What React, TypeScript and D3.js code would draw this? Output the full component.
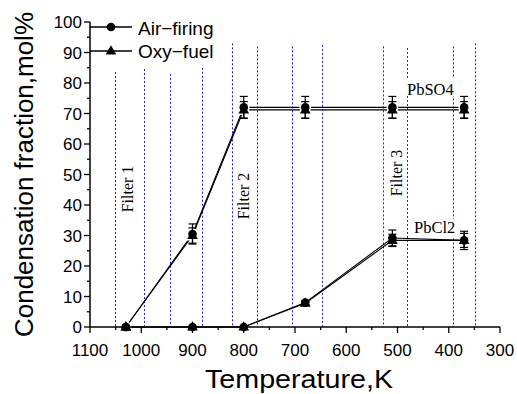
import React from "react";
import * as d3 from "d3";

// Temperatures of the sampling points (K)
const temps = [1030, 900, 800, 680, 510, 370];

// PbSO4 condensation fraction (mol%) and error
const pbso4Air = [0, 30.5, 72.0, 72.0, 72.0, 72.0];
const pbso4AirErr = [0, 3.3, 3.6, 3.6, 3.6, 3.6];
const pbso4Oxy = [0, 30.0, 71.2, 71.2, 71.2, 71.2];
const pbso4OxyErr = [0, 2.5, 2.7, 2.7, 2.7, 2.7];

// PbCl2 condensation fraction (mol%) and error
const pbcl2Air = [0, 0, 0, 8.0, 29.2, 28.4];
const pbcl2AirErr = [0, 0, 0, 0.6, 2.6, 3.0];
const pbcl2Oxy = [0, 0, 0, 7.8, 28.4, 28.4];
const pbcl2OxyErr = [0, 0, 0, 0.5, 2.0, 2.3];

// Filter temperature boundaries (K) and the height each guide line reaches (mol%)
const filterBounds = [1051, 995, 944, 881, 823, 774, 706, 647, 528, 481, 392, 349];
const filterTops = [83.6, 84.6, 83, 85, 93, 92, 92, 92.5, 92, 91.5, 92, 93];

const filterLabels = [
  { text: "Filter 1", t: 1016, cy: 189 },
  { text: "Filter 2", t: 790, cy: 196 },
  { text: "Filter 3", t: 491, cy: 173 },
];

const xTicks = [1100, 1000, 900, 800, 700, 600, 500, 400, 300];
const yTicks = [0, 10, 20, 30, 40, 50, 60, 70, 80, 90, 100];

const W = 517;
const H = 394;
const SANS = "'Liberation Sans', Arial, sans-serif";
const SERIF = "'Liberation Serif', 'Times New Roman', serif";

export default function App() {
  const x = d3.scaleLinear().domain([1100, 300]).range([90, 500]);
  const y = d3.scaleLinear().domain([0, 100]).range([327, 22]);

  const line = d3
    .line<[number, number]>()
    .x((d) => x(d[0]))
    .y((d) => y(d[1]));

  const pts = (vals: number[]) => temps.map((t, i) => [t, vals[i]] as [number, number]);

  const tri = d3.symbol().type(d3.symbolTriangle).size(50)() as string;

  // white halo behind symbols leaves a small gap where the line meets them
  const halo = (vals: number[], kind: "c" | "t", key: string) =>
    temps.map((t, i) =>
      kind === "c" ? (
        <circle key={key + i} cx={x(t)} cy={y(vals[i])} r={4.3} fill="#fff" stroke="#fff" strokeWidth={3} />
      ) : (
        <path
          key={key + i}
          d={tri}
          transform={`translate(${x(t)},${y(vals[i]) + 0.5})`}
          fill="#fff"
          stroke="#fff"
          strokeWidth={3}
        />
      )
    );

  const circleMarks = (vals: number[], key: string) =>
    temps.map((t, i) => (
      <circle key={key + i} cx={x(t)} cy={y(vals[i])} r={4.3} fill="#000" />
    ));
  const triMarks = (vals: number[], key: string) =>
    temps.map((t, i) => (
      <path key={key + i} d={tri} transform={`translate(${x(t)},${y(vals[i]) + 0.5})`} fill="#000" />
    ));
  const errBars = (vals: number[], errs: number[], key: string) =>
    temps.map((t, i) => {
      if (!errs[i]) return null;
      const cx = x(t);
      const y1 = y(vals[i] + errs[i]);
      const y2 = y(vals[i] - errs[i]);
      return (
        <g key={key + i} stroke="#000" strokeWidth={1.2}>
          <line x1={cx} x2={cx} y1={y1} y2={y2} />
          <line x1={cx - 4} x2={cx + 4} y1={y1} y2={y1} />
          <line x1={cx - 4} x2={cx + 4} y1={y2} y2={y2} />
        </g>
      );
    });

  const minorX = d3.range(1100, 299, -50);
  const minorY = d3.range(0, 101, 5);

  return (
    <svg
      width={W}
      height={H}
      style={{ position: "absolute", left: 0, top: 0, background: "#fff" }}
    >
      <rect width={W} height={H} fill="#fff" />

      {/* filter guide lines */}
      {filterBounds.map((t, i) => (
        <line
          key={"fb" + i}
          x1={Math.round(x(t)) + 0.5}
          x2={Math.round(x(t)) + 0.5}
          y1={y(filterTops[i])}
          y2={y(0)}
          stroke="#1a1aff"
          strokeWidth={1}
          strokeDasharray="2,2"
        />
      ))}

      {/* filter labels */}
      {filterLabels.map((f, i) => (
        <text
          key={"fl" + i}
          transform={`translate(${x(f.t)},${f.cy}) rotate(-90)`}
          textAnchor="middle"
          fontFamily={SERIF}
          fontSize={16}
          fill="#000"
        >
          {f.text}
        </text>
      ))}

      {/* species labels */}
      <rect x={403} y={78} width={53} height={18} fill="#fff" />
      <text x={407} y={95} fontFamily={SERIF} fontSize={16.5} fill="#000">
        PbSO4
      </text>
      <rect x={412} y={219} width={45} height={19} fill="#fff" />
      <text x={414} y={233} fontFamily={SERIF} fontSize={16.5} fill="#000">
        PbCl2
      </text>

      {/* series lines */}
      <g fill="none" stroke="#000" strokeWidth={1.1}>
        <path d={line(pts(pbso4Air)) as string} />
        <path d={line(pts(pbso4Oxy)) as string} />
        <path d={line(pts(pbcl2Air)) as string} />
        <path d={line(pts(pbcl2Oxy)) as string} />
      </g>

      {halo(pbso4Air, "c", "ha")}
      {halo(pbso4Oxy, "t", "ho")}

      {/* markers */}
      {circleMarks(pbso4Air, "ma")}
      {triMarks(pbso4Oxy, "mo")}
      {circleMarks(pbcl2Air, "na")}
      {triMarks(pbcl2Oxy, "no")}

      {/* error bars */}
      {errBars(pbso4Air, pbso4AirErr, "ea")}
      {errBars(pbso4Oxy, pbso4OxyErr, "eo")}
      {errBars(pbcl2Air, pbcl2AirErr, "ca")}
      {errBars(pbcl2Oxy, pbcl2OxyErr, "co")}

      {/* axes */}
      <g stroke="#000">
        <line x1={90} x2={90} y1={y(100)} y2={y(0)} strokeWidth={1.5} />
        <line x1={90} x2={500} y1={y(0)} y2={y(0)} strokeWidth={1.5} />
        {minorX.map((t) => (
          <line
            key={"mx" + t}
            x1={x(t)}
            x2={x(t)}
            y1={y(0)}
            y2={y(0) + (t % 100 === 0 ? 6 : 3)}
            strokeWidth={1.3}
          />
        ))}
        {minorY.map((v) => (
          <line
            key={"my" + v}
            x1={90 - (v % 10 === 0 ? 6 : 3)}
            x2={90}
            y1={y(v)}
            y2={y(v)}
            strokeWidth={1.3}
          />
        ))}
      </g>
      {xTicks.map((t) => (
        <text
          key={"xt" + t}
          x={x(t)}
          y={356}
          textAnchor="middle"
          fontFamily={SANS}
          fontSize={17}
          fill="#000"
        >
          {t}
        </text>
      ))}
      {yTicks.map((v) => (
        <text
          key={"yt" + v}
          x={82}
          y={y(v) + 6}
          textAnchor="end"
          fontFamily={SANS}
          fontSize={17}
          fill="#000"
        >
          {v}
        </text>
      ))}

      {/* axis titles */}
      <text
        x={299}
        y={388}
        textAnchor="middle"
        fontFamily={SANS}
        fontSize={25}
        textLength={188}
        lengthAdjust="spacingAndGlyphs"
        fill="#000"
      >
        Temperature,K
      </text>
      <text
        transform={`translate(33,174.5) rotate(-90)`}
        textAnchor="middle"
        fontFamily={SANS}
        fontSize={25}
        textLength={325}
        lengthAdjust="spacingAndGlyphs"
        fill="#000"
      >
        Condensation fraction,mol%
      </text>

      {/* legend */}
      <g stroke="#000" strokeWidth={1.3}>
        <line x1={90} x2={132} y1={27} y2={27} />
        <line x1={90} x2={132} y1={51} y2={51} />
      </g>
      <circle cx={111} cy={27} r={4.3} fill="#000" />
      <path d={tri} transform="translate(111,51.5)" fill="#000" />
      <text x={138} y={34.5} fontFamily={SANS} fontSize={19} fill="#000">
        Air−firing
      </text>
      <text x={138} y={58} fontFamily={SANS} fontSize={19} fill="#000">
        Oxy−fuel
      </text>
    </svg>
  );
}
